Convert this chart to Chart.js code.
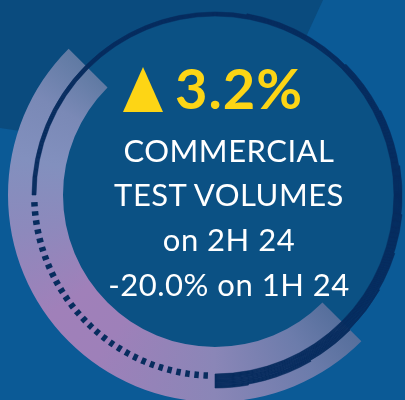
<!DOCTYPE html>
<html>
<head>
<meta charset="utf-8">
<script src="https://cdn.jsdelivr.net/npm/chart.js"></script>
<style>
  html, body { margin: 0; padding: 0; }
  body { width: 405px; height: 400px; overflow: hidden; background: #0b5a96; }
  #stage { position: relative; width: 405px; height: 400px; overflow: hidden; }
  #shade { position: absolute; left: 0; top: 0; width: 405px; height: 400px; background: #0a4b7e;
           clip-path: polygon(0 0, 323px 0, 300px 50px, 150px 150px, 0 128px); }
  #disc { position: absolute; left: 35px; top: 15px; width: 360px; height: 360px; border-radius: 50%; background: #0b5184; }
  canvas { position: absolute; left: 0; top: 0; }
  .txt { position: absolute; left: 29px; width: 400px; text-align: center; color: #fff;
         font-family: Lato, sans-serif; font-size: 31px; line-height: 31px; letter-spacing: 0.5px; white-space: nowrap; }
  #head { position: absolute; left: 175px; top: 60px; color: #fdd515; font-family: Lato, sans-serif;
          font-weight: 700; font-size: 56px; line-height: 56px; letter-spacing: 1px; white-space: nowrap; }
  #tri { position: absolute; left: 123px; top: 67px; width: 0; height: 0;
         border-left: 20px solid transparent; border-right: 20px solid transparent; border-bottom: 45px solid #fdd515; }
</style>
</head>
<body>
<div id="stage">
  <div id="shade"></div>
  <div id="disc"></div>
  <canvas id="band" width="405" height="400"></canvas>
  <canvas id="ring" width="405" height="400"></canvas>
  <canvas id="dots" width="405" height="400"></canvas>
  <div id="tri"></div>
  <div id="head"></div>
  <div id="l0" class="txt" style="top:135px"></div>
  <div id="l1" class="txt" style="top:179px"></div>
  <div id="l2" class="txt" style="top:224px"></div>
  <div id="l3" class="txt" style="top:269px"></div>
</div>
<script>
// textos
const headline = '3.2%';
const lines = ['COMMERCIAL', 'TEST VOLUMES', 'on 2H 24', '-20.0% on 1H 24'];

// arcos em graus, 0 = topo, sentido horario
const bandStart = 135;
const bandSpan = 180;
const ringStart = 270;
const ringEnd = 540;
// inicio de cada camada de 1px do anel escuro (de dentro para fora)
const ringLayerStart = [270, 270, 270, 270, 370, 405, 423, 441, 456, 468, 480, 495, 510, 530];
const dotStart = 180;
const dotCount = 30;
const dotSpan = 1.42;
const dotGap = 1.48;

const navy = '#072c5e';
const clear = 'rgba(0,0,0,0)';

document.getElementById('head').textContent = headline;
lines.forEach((t, i) => { document.getElementById('l' + i).textContent = t; });

function baseOptions(radius, cutout, rotation) {
    return {
        responsive: false,
        animation: false,
        events: [],
        radius: radius,
        cutout: cutout,
        rotation: rotation,
        layout: { padding: { left: 25, top: 0, right: 0, bottom: 10 } },
        plugins: { legend: { display: false }, tooltip: { enabled: false } }
    };
}

// faixa com gradiente
function bandColor(c) {
    if (c.dataIndex !== 0) return clear;
    const ch = c.chart;
    const a = ch.chartArea;
    if (!a) return '#8a86b7';
    const g = ch.ctx.createConicGradient(-Math.PI / 2, (a.left + a.right) / 2, (a.top + a.bottom) / 2);
    g.addColorStop(0.0, '#566f9c');
    g.addColorStop(0.375, '#566f9c');
    g.addColorStop(0.42, '#6c7cab');
    g.addColorStop(0.50, '#8a86b7');
    g.addColorStop(0.60, '#9e80b9');
    g.addColorStop(0.65, '#a080b9');
    g.addColorStop(0.72, '#8d89bc');
    g.addColorStop(0.78, '#8290be');
    g.addColorStop(0.83, '#7a89b6');
    g.addColorStop(0.875, '#607aa3');
    g.addColorStop(1.0, '#607aa3');
    return g;
}

new Chart(document.getElementById('band'), {
    type: 'doughnut',
    data: { datasets: [{ data: [bandSpan, 360 - bandSpan], backgroundColor: bandColor, borderWidth: 0 }] },
    options: baseOptions(207, (152 / 207 * 100) + '%', bandStart)
});

// anel escuro, camadas de fora para dentro
const ringSets = ringLayerStart.slice().reverse().map(s => ({
    data: [s - ringStart, ringEnd - s, 360 - (ringEnd - ringStart)],
    backgroundColor: [clear, navy, clear],
    borderColor: [clear, navy, clear],
    borderWidth: 0.6,
    borderAlign: 'center'
}));

new Chart(document.getElementById('ring'), {
    type: 'doughnut',
    data: { datasets: ringSets },
    options: baseOptions(179 + ringLayerStart.length, (179 / (179 + ringLayerStart.length) * 100) + '%', ringStart)
});

// pontilhado
const edgeGap = (90 - dotCount * dotSpan - (dotCount - 1) * dotGap) / 2;
const dotData = [edgeGap];
const dotColors = [clear];
for (let i = 0; i < dotCount; i++) {
    dotData.push(dotSpan); dotColors.push(navy);
    if (i < dotCount - 1) { dotData.push(dotGap); dotColors.push(clear); }
}
dotData.push(edgeGap, 270);
dotColors.push(clear, clear);

new Chart(document.getElementById('dots'), {
    type: 'doughnut',
    data: { datasets: [{ data: dotData, backgroundColor: dotColors, borderWidth: 0 }] },
    options: baseOptions(184, (177.5 / 184 * 100) + '%', dotStart)
});
</script>
</body>
</html>
